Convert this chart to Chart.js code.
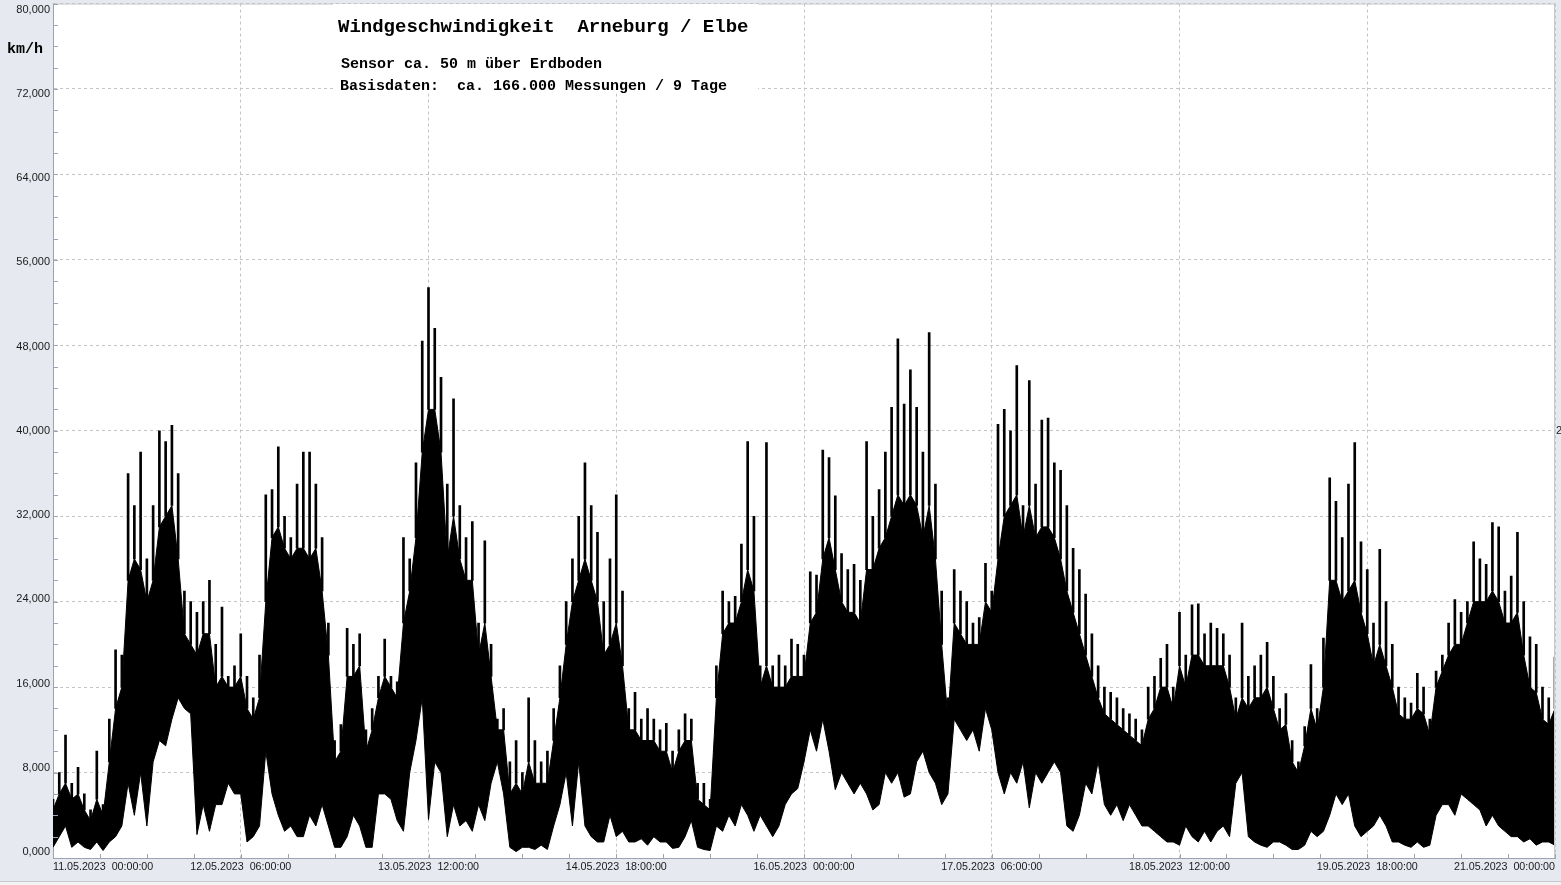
<!DOCTYPE html>
<html><head><meta charset="utf-8">
<script src="https://cdn.jsdelivr.net/npm/chart.js@4.4.1/dist/chart.umd.min.js"></script>
<style>html,body{margin:0;padding:0;background:#e6e9ef;overflow:hidden}canvas{display:block}</style>
</head><body>
<canvas id="c" width="1561" height="885"></canvas>
<script>
// hourly samples starting 11.05.2023 00:00:00 (x value = hours since start)
const stepHours = 1;
// highest gust spike per hour (km/h)
const maxSpeed = [
 5.5,8,11.5,7,8.5,6,4.5,10,5,13, 19.5,19,36,33,38,28,33,40,39,40.5,
 36,25,24,23,24,26,20,23.5,17,18, 21,17,15,19,34,34.5,38.5,32,30,35,
 38,38,35,30,22,11,12.5,21.5,20,21, 12,14,17,20.5,17,16.5,30,28,37,48.4,
 53.4,49.6,45,35,43,33,30,31.5,22,29.7, 20,13,14,9,11,8,15,11,9,10,
 14,18,24,28,32,37,33,30.5,24,28, 34,25,14,15.5,13,14,13,12,12.6,10,
 12,13.5,13,7,7,5.5,18,25,24,24.5, 29.4,39,32,18,38.9,18,19,18,20.5,20,
 19,26.8,26.5,38.2,37.5,33.9,28.5,27,27.5,26, 39,32,34.5,38,42.2,48.6,42.5,45.7,42.2,38,
 49.2,35,25,15,27,25,24,22,22.5,27.6, 25,40.6,42,40,46.1,33,44.7,35,41,41.2,
 37,36.3,33,29,27,24.7,21,18,16,15.5, 15,14,13.5,13,12,16,17,18.7,20,16,
 23,19,23.7,23.8,21,22,21.5,21,19,15, 22,17,18,19,20.2,17,14,15.4,11,9,
 12.3,18.1,14,20.6,35.6,33.4,30,35,38.9,29.6, 27,22,28.9,24,20,16,15,14.5,17.3,16,
 13,17.5,19,22,24.2,23,24,29.6,28,27.5, 31.4,31,25,26.4,30.5,24,20.7,20,16,15,
 18.8
];
// upper edge of the dense band per hour (km/h)
const bandHigh = [
 4.5,6,7,5.5,6,4.5,3.5,5.5,4,9, 14,16,26,28,27,24,26,31,32,33,
 28,21,20,19,21,21,16,17,16,16, 17,14,13,15,24,30,31,29,28,29,
 29,28,29,25,19,9,10,17,17,18, 10,12,15,17,16,15,22,25,30,38,
 42,42,38,28,32,28,26,26,19,22, 17,12,12,6,7,6,9,7,7,7,
 11,15,20,24,26,28,26,24,19,20, 22,18,12,12,11,11,11,10,10,8,
 10,11,11,5.5,5,4.5,15,21,22,22, 24,27,25,16,18,16,16,16,17,17,
 17,22,23,28,30,27,24,23,23,22, 27,27,29,30,32,34,33,34,33,30,
 33,28,20,13,22,21,20,20,20,24, 23,28,32,33,34,30,33,30,31,31,
 30,28,25,23,21,19,17,15,13.5,13, 12.5,12,11.5,11,10.5,13,14,16,16,14,
 18,16,19,19,18,18,18,18,16,13, 15,14,15,15,16,14,12,12.5,9,8,
 10.5,14,12,16,26,26,24,25,26,23, 21,18,20,18,16,13.5,13,13,14,13.5,
 11.5,16,17.5,19,20,20,22,24,24,24, 25,24,22,22,23,19,16,15.5,13,12.5,
 14
];
// minimum wind speed per hour (km/h)
const minSpeed = [
 1,2,3,1,1.5,1,0.8,1.5,0.7,1.5, 2,3,7,4,8,3,9,11,10.5,13,
 15,14,13.5,2.2,5,2.5,5,5,7,6, 6,1.5,2,3,10,6,4,2.5,3,2,
 2,4,3,5,3,1,1,2,4,3, 1,1,6,6,5.5,3.5,2.5,8,11,15,
 3.6,9,8,2,5,3,3.5,2.5,5,3.5, 7,9,6,1,0.6,1,1,0.8,1.2,0.8,
 3,5,8,3,9,3,2,1.5,1.5,4, 2,2.5,1.5,1.5,1.8,1.2,2,1.5,1.5,0.9,
 1,2,3.5,1,0.8,0.7,3,2.5,4,3, 5,4,2.5,4,3,2,3,5,6,6.5,
 9,12,10,13,10,6.4,8,7,6,7, 6,4.5,5,8,7,8,5.7,6,9,10,
 8,7,5,6,13,12,11,12,10,14, 12,8,6,8,7,9,4.7,8,7,8,
 9,8,3,2.5,4,7,6,9,5,4, 5,3.5,5,4,3,3,2.5,2,1.5,1.5,
 1.2,3,2,1.5,2.5,1.5,2.5,3,2,7, 8,2,1.5,1.2,1,1.5,1.5,1.2,0.8,0.8,
 1.2,2.5,2,2.5,4,6,5,6,3,2, 2.5,3,4,3,1.5,1.5,1.2,1,1.5,1,
 1.2,4,5,5,4,6,5.5,5,4.5,3, 4,3,2.5,2,2,1.5,1.8,1.2,1.5,1.5,
 1.2
];
const xTickLabels = ["11.05.2023  00:00:00","12.05.2023  06:00:00","13.05.2023  12:00:00","14.05.2023  18:00:00","16.05.2023  00:00:00","17.05.2023  06:00:00","18.05.2023  12:00:00","19.05.2023  18:00:00","21.05.2023  00:00:00"];
const xTickStep = 30;
const yTickStep = 8;
const titleLines = ["Windgeschwindigkeit  Arneburg / Elbe","Sensor ca. 50 m über Erdboden","Basisdaten:  ca. 166.000 Messungen / 9 Tage"];
const unitLabel = "km/h";

const minPts = minSpeed.map((v,i)=>({x:i*stepHours,y:v}));
const bandPts = bandHigh.map((v,i)=>({x:i*stepHours,y:v}));
const spikePts = maxSpeed.map((v,i)=>({x:i*stepHours,y:[bandHigh[i],v]}));

const decor = {
  id:'decor',
  beforeDraw(chart){
    const ctx=chart.ctx, a=chart.chartArea;
    ctx.save();
    ctx.fillStyle='#e6e9ef'; ctx.fillRect(0,0,chart.width,chart.height);
    ctx.fillStyle='#f3f3f3'; ctx.fillRect(0,882,chart.width,chart.height-882);
    ctx.fillStyle='#c3c7cf'; ctx.fillRect(0,881,chart.width,1);
    ctx.fillStyle='#ffffff'; ctx.fillRect(a.left,a.top,a.right-a.left,a.bottom-a.top);
    ctx.restore();
  },
  afterDraw(chart){
    const ctx=chart.ctx, a=chart.chartArea, xs=chart.scales.x, ys=chart.scales.y;
    ctx.save();
    ctx.strokeStyle='#c8c8c8'; ctx.lineWidth=1;
    ctx.beginPath(); ctx.moveTo(a.left,a.top+0.5); ctx.lineTo(a.right,a.top+0.5);
    ctx.moveTo(a.right-0.5,a.top); ctx.lineTo(a.right-0.5,a.bottom); ctx.stroke();
    ctx.strokeStyle='#9ba4b4';
    ctx.beginPath();
    for(let v=0; v<=240; v+=7.5){const px=Math.round(xs.getPixelForValue(v))+0.5; ctx.moveTo(px,a.bottom); ctx.lineTo(px,a.bottom-4);}
    for(let v=0; v<=80; v+=2){const py=Math.round(ys.getPixelForValue(v))+0.5; ctx.moveTo(a.left,py); ctx.lineTo(a.left+5,py);}
    ctx.stroke();
    ctx.fillStyle='#ffffff'; ctx.fillRect(333,4,425,88);
    ctx.fillStyle='#000';
    ctx.textBaseline='middle'; ctx.textAlign='left';
    ctx.font='bold 19px "Liberation Mono", monospace';
    ctx.fillText(titleLines[0],338,27);
    ctx.font='bold 15px "Liberation Mono", monospace';
    ctx.fillText(titleLines[1],341,64);
    ctx.fillText(titleLines[2],340,86);
    ctx.fillText(unitLabel,7,49);
    ctx.font='11px "Liberation Sans", sans-serif';
    ctx.fillStyle='#222';
    ctx.fillText('2',1556,431);
    ctx.restore();
  }
};

new Chart(document.getElementById('c'),{
  type:'line',
  data:{datasets:[
    {type:'line',label:'min',data:minPts,borderColor:'#000',borderWidth:1,pointRadius:0,fill:false,tension:0},
    {type:'line',label:'band',data:bandPts,borderColor:'#000',borderWidth:1,pointRadius:0,fill:'-1',backgroundColor:'#000',tension:0},
    {type:'bar',label:'max',data:spikePts,backgroundColor:'#000',borderWidth:0,barThickness:2,grouped:false}
  ]},
  options:{
    responsive:false,animation:false,events:[],
    layout:{autoPadding:false,padding:{top:3,right:6,left:0,bottom:0}},
    plugins:{legend:{display:false},tooltip:{enabled:false},title:{display:false}},
    scales:{
      x:{type:'linear',min:0,max:240,offset:false,
        ticks:{stepSize:xTickStep,autoSkip:false,maxRotation:0,minRotation:0,align:'inner',padding:4,
          font:{family:'"Liberation Sans", sans-serif',size:10.7,lineHeight:1},color:'#1a1a1a',
          callback:(v)=>{const i=Math.round(v/xTickStep);return (Math.abs(v-i*xTickStep)<1e-6 && xTickLabels[i])?xTickLabels[i]:'';}},
        grid:{color:'#c4c4c4',drawTicks:false,lineWidth:1,offset:false},
        border:{display:true,color:'#9ba4b4',width:1,dash:[3,3]},
        afterFit(s){s.height=27;}
      },
      y:{type:'linear',min:0,max:80,position:'left',weight:0,
        ticks:{display:false,stepSize:yTickStep,font:{size:1,lineHeight:0.1}},
        grid:{color:'#c4c4c4',drawTicks:false,lineWidth:1},
        border:{display:true,color:'#9ba4b4',width:1,dash:[3,3]},
        afterFit(s){s.width=0;}
      },
      yl:{type:'linear',min:-0.569,max:80.569,position:'left',weight:1,
        ticks:{stepSize:yTickStep,includeBounds:false,padding:3,
          font:{family:'"Liberation Sans", sans-serif',size:11,lineHeight:0.1},color:'#1a1a1a',
          callback:(v)=>Number(v).toFixed(3).replace('.',',')},
        grid:{display:false,drawTicks:false},
        border:{display:false},
        afterFit(s){s.width=53;}
      }
    }
  },
  plugins:[decor]
});
</script>
</body></html>
